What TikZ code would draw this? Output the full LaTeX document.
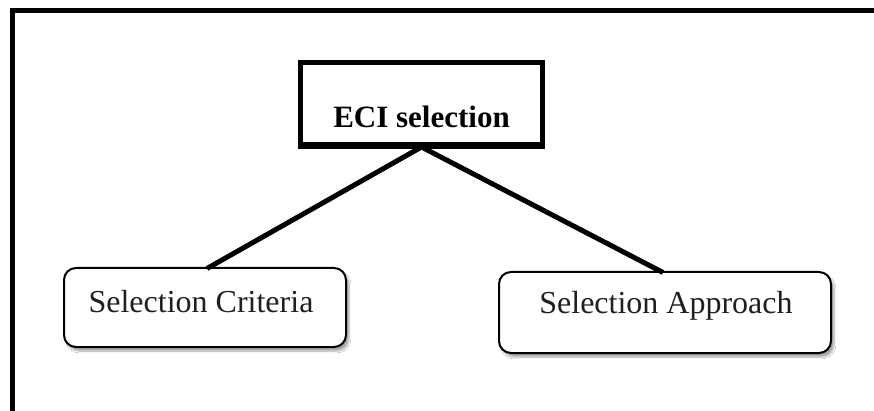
\documentclass[tikz,border=0pt]{standalone}
\usepackage{fontspec}
\setmainfont{Liberation Serif}
\usetikzlibrary{shadows.blur}
\begin{document}
\begin{tikzpicture}[x=1pt,y=-1pt,
  headbox/.style={draw=black, line width=5pt, fill=white, inner sep=0pt},
  leafbox/.style={draw=black, line width=2pt, rounded corners=12pt, fill=white, inner sep=0pt,
    blur shadow={shadow xshift=3pt, shadow yshift=-4pt, shadow blur steps=6, shadow opacity=35}},
  link/.style={line width=5pt},
  caption/.style={anchor=base, inner sep=0pt, text=black!88, font=\fontsize{32}{32}\selectfont}
]
\useasboundingbox (0,0) rectangle (874,411);
\fill[white] (0,0) rectangle (874,411);

% outer frame: top and left edges only
\coordinate (fl) at (12.5,411);
\coordinate (fc) at (12.5,10.5);
\coordinate (fr) at (874,10.5);
\draw[line width=5pt] (fl) -- (fc) -- (fr);

% leaf boxes
\node[leafbox, minimum width=282pt, minimum height=79pt] (left) at (205,307.5) {};
\node[leafbox, minimum width=332pt, minimum height=81pt] (right) at (665,312.5) {};

% head box and connectors
\coordinate (lt) at (207,268.5);
\coordinate (rt) at (663,272.5);
\node[headbox, minimum width=242pt, minimum height=82pt] (top) at (421.5,103.5) {};
\draw[link] (top.south) -- (lt);
\draw[link] (top.south) -- (rt);
\draw[line width=5pt] (top.south west) -- (top.south east);

% labels
\node[caption, text=black, font=\fontsize{31}{31}\selectfont\bfseries] (t1) at (421.5,128) {ECI selection};
\node[caption] (t2) at (201,312) {Selection Criteria};
\node[caption] (t3) at (666,313) {Selection Approach};
\end{tikzpicture}
\end{document}
